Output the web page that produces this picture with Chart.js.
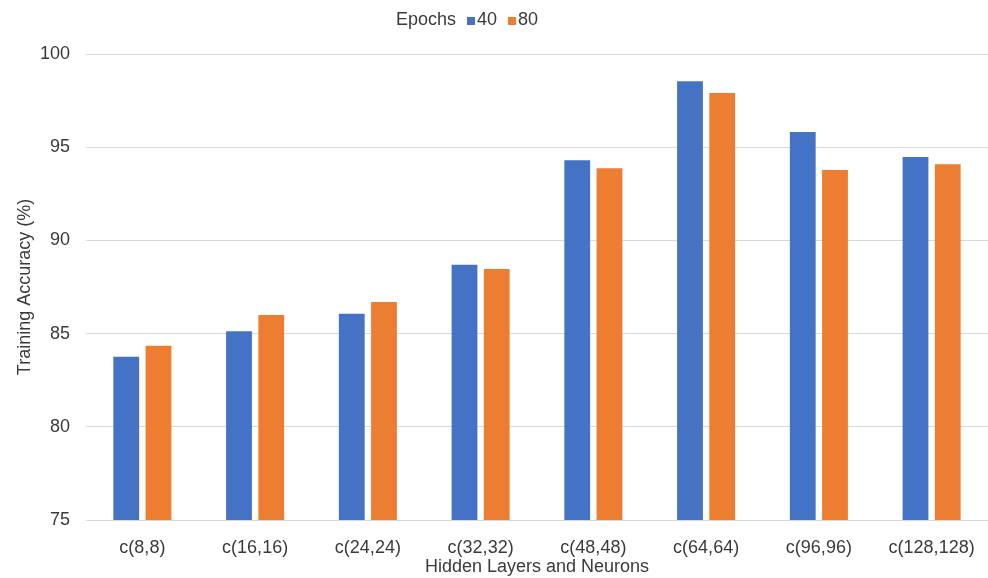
<!DOCTYPE html>
<html>
<head>
<meta charset="utf-8">
<script src="https://cdn.jsdelivr.net/npm/chart.js@4/dist/chart.umd.min.js"></script>
<style>
  html, body { margin: 0; padding: 0; background: #ffffff; }
  #wrap { width: 988px; height: 578px; }
</style>
</head>
<body>
<div id="wrap"><canvas id="chart" width="988" height="578"></canvas></div>
<script>
// Network configurations on the x axis
const categories = ['c(8,8)', 'c(16,16)', 'c(24,24)', 'c(32,32)', 'c(48,48)', 'c(64,64)', 'c(96,96)', 'c(128,128)'];

// Training accuracy (%) per configuration
const seriesNames = ['40', '80'];
const accuracy40 = [83.76, 85.13, 86.06, 88.69, 94.30, 98.54, 95.82, 94.48];
const accuracy80 = [84.35, 86.00, 86.69, 88.46, 93.87, 97.91, 93.78, 94.09];

// Axis ticks
const yTicks = [75, 80, 85, 90, 95, 100];

const legendTitle = 'Epochs';
const xTitle = 'Hidden Layers and Neurons';
const yTitle = 'Training Accuracy (%)';

const FONT = '"Liberation Sans", Arial, sans-serif';
const TEXT = '#3a3a3a';
const BLUE = '#4472C4';
const ORANGE = '#ED7D31';

// Inline legend: "Epochs ■40 ■80" on one row above the plot
const inlineLegend = {
  id: 'inlineLegend',
  afterDraw(chart) {
    const ctx = chart.ctx;
    ctx.save();
    ctx.font = '18px ' + FONT;
    ctx.fillStyle = TEXT;
    ctx.textBaseline = 'middle';
    const box = 8, boxGap = 2, titleGap = 11, itemGap = 11;
    const items = chart.data.datasets.map(ds => ({
      label: ds.label, color: ds.backgroundColor, w: ctx.measureText(ds.label).width
    }));
    const titleW = ctx.measureText(legendTitle).width;
    let total = titleW + titleGap;
    items.forEach((it, i) => { total += box + boxGap + it.w + (i < items.length - 1 ? itemGap : 0); });
    const cy = 20;
    let x = 467 - total / 2;
    ctx.textAlign = 'left';
    ctx.fillText(legendTitle, x, cy);
    x += titleW + titleGap;
    items.forEach(it => {
      ctx.fillStyle = it.color;
      ctx.fillRect(x, cy - box / 2 + 1, box, box);
      x += box + boxGap;
      ctx.fillStyle = TEXT;
      ctx.fillText(it.label, x, cy);
      x += it.w + itemGap;
    });
    ctx.restore();
  }
};

const config = {
  type: 'bar',
  data: {
    labels: categories,
    datasets: [
      { label: seriesNames[0], data: accuracy40, backgroundColor: BLUE, categoryPercentage: 0.572, barPercentage: 0.8 },
      { label: seriesNames[1], data: accuracy80, backgroundColor: ORANGE, categoryPercentage: 0.572, barPercentage: 0.8 }
    ]
  },
  options: {
    responsive: false,
    animation: false,
    layout: { padding: { top: 54, right: 0, bottom: 0, left: 0 } },
    plugins: {
      legend: { display: false },
      tooltip: { enabled: false }
    },
    scales: {
      x: {
        grid: { display: false, drawTicks: false },
        border: { display: false },
        ticks: { color: TEXT, font: { family: FONT, size: 18 }, padding: 17, maxRotation: 0, autoSkip: false },
        title: { display: true, text: xTitle, color: TEXT, font: { family: FONT, size: 18 }, padding: { top: 0, bottom: 0 } },
        afterFit(scale) { scale.height = 58; scale.paddingLeft = 0; scale.paddingRight = 0; }
      },
      y: {
        min: yTicks[0],
        max: yTicks[yTicks.length - 1],
        afterBuildTicks(scale) { scale.ticks = yTicks.map(v => ({ value: v })); },
        grid: { color: '#D9D9D9', lineWidth: 1, drawTicks: false },
        border: { display: false },
        ticks: { color: TEXT, font: { family: FONT, size: 18 }, padding: 16 },
        title: { display: true, text: yTitle, color: TEXT, font: { family: FONT, size: 18 }, padding: { top: 14, bottom: 0 } },
        afterFit(scale) { scale.width = 86; }
      }
    }
  },
  plugins: [inlineLegend]
};

const chart = new Chart(document.getElementById('chart'), config);
// keep the plot top on the 100 gridline row and the plot reaching the right edge
const dy = 54 - chart.chartArea.top;
const dx = chart.chartArea.right - 988;
if (dy !== 0 || dx !== 0) {
  chart.options.layout.padding.top += dy;
  chart.options.layout.padding.right += dx;
  chart.update();
}
</script>
</body>
</html>
